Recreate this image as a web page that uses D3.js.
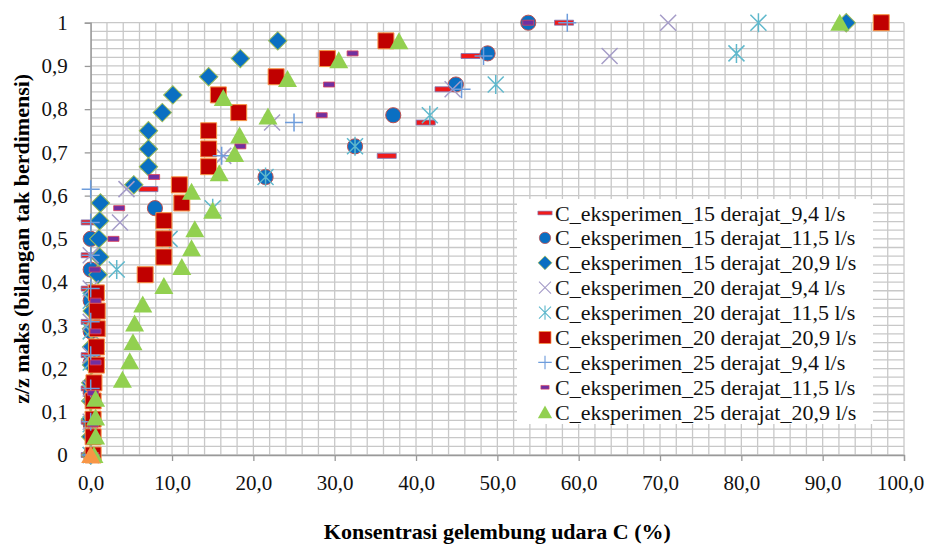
<!DOCTYPE html>
<html>
<head>
<meta charset="utf-8">
<script src="https://cdn.jsdelivr.net/npm/d3@7"></script>
</head>
<body style="margin:0; background:#fff">
<script>
const WIDTH = 926;
const HEIGHT = 548;
const FONT = "'Liberation Serif'";

const padLeft = 90.7, padRight = 904, padTop = 22.7, padBottom = 455;

// [C (%), z/z maks]
const s15_94 = [[58.2,1.0],[46.7,0.923],[43.5,0.846],[41.2,0.769],[36.4,0.692],[7.1,0.615],[0,0.538],[0,0.462],[0,0.385],[0,0.308],[0,0.231],[0,0.154],[0,0.077],[0,0]];
const s15_115 = [[53.8,1.0],[48.8,0.929],[44.9,0.857],[37.2,0.786],[32.5,0.714],[21.5,0.643],[7.9,0.571],[0,0.5],[0,0.429],[0,0.357],[0,0.286],[0,0.214],[0,0.143],[0,0.071],[0,0]];
const s15_209 = [[92.9,1.0],[23.0,0.958],[18.4,0.917],[14.5,0.875],[10.1,0.833],[8.8,0.792],[7.1,0.75],[7.1,0.708],[7.1,0.667],[5.3,0.625],[1.2,0.583],[1.1,0.542],[1.0,0.5],[1.1,0.458],[0.9,0.417],[0.2,0.375],[0.2,0.333],[0.1,0.292],[0.1,0.25],[0.1,0.208],[0,0.167],[0,0.125],[0,0.083],[0,0.042],[0,0]];
const s20_94 = [[71.0,1.0],[63.8,0.923],[44.5,0.846],[22.3,0.769],[16.3,0.692],[4.4,0.615],[3.6,0.538],[0,0.462],[0,0.385],[0,0.308],[0,0.231],[0,0.154],[0,0.077],[0,0]];
const s20_115 = [[82.1,1.0],[79.4,0.929],[49.8,0.857],[41.7,0.786],[32.5,0.714],[21.5,0.643],[15.0,0.571],[9.7,0.5],[3.2,0.429],[0,0.357],[0,0.286],[0,0.214],[0,0.143],[0,0.071],[0,0]];
const s20_209 = [[97.2,1.0],[36.3,0.958],[29.1,0.917],[22.8,0.875],[15.7,0.833],[18.2,0.792],[14.5,0.75],[14.5,0.708],[14.5,0.667],[10.9,0.625],[11.2,0.583],[9.0,0.542],[9.0,0.5],[9.0,0.458],[6.7,0.417],[0.7,0.375],[0.8,0.333],[0.8,0.292],[0.7,0.25],[0.7,0.208],[0.4,0.167],[0.3,0.125],[0.3,0.083],[0.3,0.042],[0.3,0]];
const s25_94 = [[58.6,1.0],[48.3,0.923],[45.6,0.846],[25.0,0.769],[16.1,0.692],[0,0.615],[0,0.538],[0,0.462],[0,0.385],[0,0.308],[0,0.231],[0,0.154],[0,0.077],[0,0]];
const s25_115 = [[53.8,1.0],[32.2,0.929],[29.3,0.857],[28.4,0.786],[18.4,0.714],[7.8,0.643],[3.5,0.571],[2.8,0.5],[0.5,0.429],[0.6,0.357],[0.6,0.286],[0.6,0.214],[0.3,0.143],[0.3,0.071],[0.3,0]];
const s25_209 = [[92.1,1.0],[37.9,0.957],[30.5,0.913],[24.2,0.870],[16.3,0.826],[21.8,0.783],[18.3,0.739],[17.7,0.696],[15.8,0.652],[12.4,0.609],[15.0,0.565],[12.8,0.522],[12.4,0.478],[11.2,0.435],[9.0,0.391],[6.4,0.348],[5.4,0.304],[5.2,0.261],[4.8,0.217],[3.9,0.174],[0.6,0.13],[0.6,0.087],[0.6,0.043],[0.4,0]];
const extraPoint = [[0,0]];

const seriesNames = [
    "C_eksperimen_15 derajat_9,4 l/s",
    "C_eksperimen_15 derajat_11,5 l/s",
    "C_eksperimen_15 derajat_20,9 l/s",
    "C_eksperimen_20 derajat_9,4 l/s",
    "C_eksperimen_20 derajat_11,5 l/s",
    "C_eksperimen_20 derajat_20,9 l/s",
    "C_eksperimen_25 derajat_9,4 l/s",
    "C_eksperimen_25 derajat_11,5 l/s",
    "C_eksperimen_25 derajat_20,9 l/s"
];
const seriesData = [s15_94, s15_115, s15_209, s20_94, s20_115, s20_209, s25_94, s25_115, s25_209];

const xTicks = [0, 10, 20, 30, 40, 50, 60, 70, 80, 90, 100];
const yTicks = [0, 0.1, 0.2, 0.3, 0.4, 0.5, 0.6, 0.7, 0.8, 0.9, 1];

// marker styles, same order as series
const markers = [
    {path: "M-9.5,-2.5H9.5V2.5H-9.5Z", fill: "#f01a1a", stroke: "#7a78b8", sw: 0.8},
    {path: d3.symbol(d3.symbolCircle, 180)(), fill: "#0a6fc2", stroke: "#c0504d", sw: 1},
    {path: d3.symbol(d3.symbolSquare, 170)(), rot: 45, fill: "#0a6fc2", stroke: "#9bbb59", sw: 1},
    {path: "M-8,-8L8,8M-8,8L8,-8", fill: "none", stroke: "#a59cc8", sw: 1.5},
    {path: "M-8,-8L8,8M-8,8L8,-8M0,-9.5V9.5", fill: "none", stroke: "#5fb8cc", sw: 1.5},
    {path: "M-8,-8H8V8H-8Z", fill: "#c00000", stroke: "#f79646", sw: 1},
    {path: "M-9,0H9M0,-9V9", fill: "none", stroke: "#6e9ddc", sw: 1.5},
    {path: "M-5.5,-2.5H5.5V2.5H-5.5Z", fill: "#7030a0", stroke: "#e0435a", sw: 0.8},
    {path: "M0,-9L9.5,8L-9.5,8Z", fill: "#92d050", stroke: "none", sw: 0}
];
const extraMarker = {path: "M0,-9L9.5,8L-9.5,8Z", fill: "#f79646", stroke: "none", sw: 0};

const svg = d3.select("body").append("svg")
    .attr("width", WIDTH)
    .attr("height", HEIGHT);

const xScale = d3.scaleLinear().domain([0, 100]).range([padLeft, padRight]);
const yScale = d3.scaleLinear().domain([0, 1]).range([padBottom, padTop]);

// grid
svg.append("g").selectAll("line").data(xScale.ticks(50)).enter().append("line")
    .attr("x1", d => xScale(d)).attr("x2", d => xScale(d))
    .attr("y1", padTop).attr("y2", padBottom)
    .attr("stroke", "#c8c8c8").attr("stroke-width", 1.3);
svg.append("g").selectAll("line").data(yScale.ticks(50)).enter().append("line")
    .attr("x1", padLeft).attr("x2", padRight)
    .attr("y1", d => yScale(d)).attr("y2", d => yScale(d))
    .attr("stroke", "#c8c8c8").attr("stroke-width", 1.3);

const comma = f => (v => f(v).replace(".", ","));

const xAxis = d3.axisBottom(xScale).tickValues(xTicks).tickSize(6).tickPadding(14)
    .tickFormat(comma(d3.format(".1f")));
const yAxis = d3.axisLeft(yScale).tickValues(yTicks).tickSize(6).tickPadding(17)
    .tickFormat(comma(d3.format("~g")));

const gx = svg.append("g").attr("transform", "translate(0," + padBottom + ")").call(xAxis);
const gy = svg.append("g").attr("transform", "translate(" + padLeft + ",0)").call(yAxis);
[gx, gy].forEach(g => {
    g.style("font-family", FONT).style("font-size", "21px");
    g.select(".domain").attr("stroke", "#999").attr("stroke-width", 1.3);
    g.selectAll(".tick line").attr("stroke", "#999").attr("stroke-width", 1.3);
    g.selectAll(".tick text").style("font-family", FONT).style("font-size", "21px").attr("fill", "#111");
});
// keep the last x label inside the window
gx.selectAll(".tick text").filter(d => d === 100).attr("dx", -4);

// points
function drawMarks(data, m) {
    svg.append("g").selectAll("path").data(data).enter().append("path")
        .attr("d", m.path)
        .attr("transform", d => "translate(" + xScale(d[0]) + "," + yScale(d[1]) + ")" + (m.rot ? " rotate(" + m.rot + ")" : ""))
        .attr("fill", m.fill)
        .attr("stroke", m.stroke)
        .attr("stroke-width", m.sw);
}
seriesData.forEach((data, i) => drawMarks(data, markers[i]));
drawMarks(extraPoint, extraMarker);

// legend
const legend = svg.append("g");
legend.append("rect").attr("x", 517).attr("y", 199).attr("width", 356).attr("height", 225)
    .attr("fill", "#fff");
seriesNames.forEach((name, i) => {
    const y = 213 + i * 24.9;
    const m = markers[i];
    legend.append("path").attr("d", m.path)
        .attr("transform", "translate(545," + y + ") scale(0.75)" + (m.rot ? " rotate(" + m.rot + ")" : ""))
        .attr("fill", m.fill).attr("stroke", m.stroke).attr("stroke-width", m.sw);
    legend.append("text").attr("x", 555).attr("y", y + 7.5)
        .style("font-family", FONT).style("font-size", "22px")
        .attr("fill", "#111").text(name);
});

// axis titles
svg.append("text")
    .attr("x", (padLeft + padRight) / 2).attr("y", 539)
    .attr("text-anchor", "middle")
    .style("font-family", FONT).style("font-weight", "bold").style("font-size", "22px")
    .text("Konsentrasi gelembung udara C (%)");
svg.append("text")
    .attr("transform", "translate(29," + (padTop + padBottom) / 2 + ") rotate(-90)")
    .attr("text-anchor", "middle")
    .style("font-family", FONT).style("font-weight", "bold").style("font-size", "22px")
    .text("z/z maks (bilangan tak berdimensi)");
</script>
</body>
</html>
